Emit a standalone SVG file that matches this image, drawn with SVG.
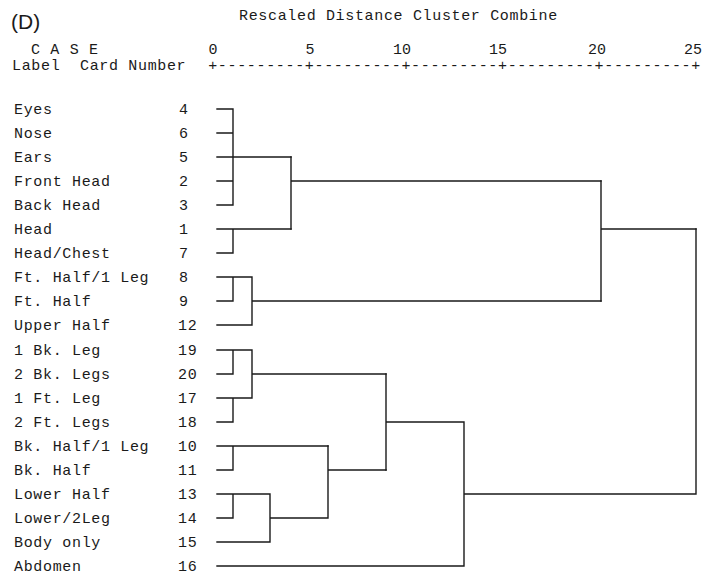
<svg xmlns="http://www.w3.org/2000/svg" width="703" height="576" viewBox="0 0 703 576">
<style>
.t{font-family:"Liberation Mono","Courier New",monospace;font-size:15px;letter-spacing:0.66px;fill:#1a1a1a}
.n{font-family:"Liberation Mono","Courier New",monospace;font-size:15px;fill:#1a1a1a;text-anchor:middle}
.c{fill:none;stroke:#1a1a1a;stroke-width:1.4;stroke-linecap:square}
</style>
<rect width="703" height="576" fill="#ffffff"/>
<g id="header">
<text x="11" y="29" style="font-family:'Liberation Sans',Arial,sans-serif;font-size:21px;fill:#1a1a1a">(D)</text>
<text class="t" x="239" y="20">Rescaled Distance Cluster Combine</text>
<text class="t" x="31" y="54">C A S E</text>
<text class="t" x="12" y="70">Label</text>
<text class="t" x="80" y="70">Card Number</text>
<text class="n" x="213" y="54">0</text>
<text class="n" x="310" y="54">5</text>
<text class="n" x="402" y="54">10</text>
<text class="n" x="498" y="54">15</text>
<text class="n" x="597" y="54">20</text>
<text class="n" x="693" y="54">25</text>
<text class="t" x="208.2" y="70" textLength="492.7" lengthAdjust="spacing">+---------+---------+---------+---------+---------+</text>
</g>
<g id="n4"><text class="t" x="14" y="114">Eyes</text><text class="t" x="179" y="114">4</text></g>
<g id="n6"><text class="t" x="14" y="138">Nose</text><text class="t" x="179" y="138">6</text></g>
<g id="n5"><text class="t" x="14" y="162">Ears</text><text class="t" x="179" y="162">5</text></g>
<g id="n2"><text class="t" x="14" y="186">Front Head</text><text class="t" x="179" y="186">2</text></g>
<g id="n3"><text class="t" x="14" y="210">Back Head</text><text class="t" x="179" y="210">3</text></g>
<g id="n1"><text class="t" x="14" y="234">Head</text><text class="t" x="179" y="234">1</text></g>
<g id="n7"><text class="t" x="14" y="258">Head/Chest</text><text class="t" x="179" y="258">7</text></g>
<g id="n8"><text class="t" x="14" y="282">Ft. Half/1 Leg</text><text class="t" x="179" y="282">8</text></g>
<g id="n9"><text class="t" x="14" y="306">Ft. Half</text><text class="t" x="179" y="306">9</text></g>
<g id="n12"><text class="t" x="14" y="330">Upper Half</text><text class="t" x="178" y="330">12</text></g>
<g id="n19"><text class="t" x="14" y="355">1 Bk. Leg</text><text class="t" x="178" y="355">19</text></g>
<g id="n20"><text class="t" x="14" y="379">2 Bk. Legs</text><text class="t" x="178" y="379">20</text></g>
<g id="n17"><text class="t" x="14" y="403">1 Ft. Leg</text><text class="t" x="178" y="403">17</text></g>
<g id="n18"><text class="t" x="14" y="427">2 Ft. Legs</text><text class="t" x="178" y="427">18</text></g>
<g id="n10"><text class="t" x="14" y="451">Bk. Half/1 Leg</text><text class="t" x="178" y="451">10</text></g>
<g id="n11"><text class="t" x="14" y="475">Bk. Half</text><text class="t" x="178" y="475">11</text></g>
<g id="n13"><text class="t" x="14" y="499">Lower Half</text><text class="t" x="178" y="499">13</text></g>
<g id="n14"><text class="t" x="14" y="523">Lower/2Leg</text><text class="t" x="178" y="523">14</text></g>
<g id="n15"><text class="t" x="14" y="547">Body only</text><text class="t" x="178" y="547">15</text></g>
<g id="n16"><text class="t" x="14" y="571">Abdomen</text><text class="t" x="178" y="571">16</text></g>
<g id="connectors" class="c">
<path d="M217,109H233M217,133H233M217,157H291M217,181H233M217,205H233M233,109V205"/>
<path d="M217,229H291M217,253H233M233,229V253"/>
<path d="M291,157V229M291,181H601"/>
<path d="M217,277H252M217,301H233M233,277V301M217,325H252M252,277V325M252,301H601"/>
<path d="M601,181V301M601,229H696"/>
<path d="M217,350H252M217,374H233M233,350V374M217,398H252M217,422H233M233,398V422M252,350V398M252,374H386"/>
<path d="M217,446H328M217,470H233M233,446V470"/>
<path d="M217,494H270M217,518H233M233,494V518M217,542H270M270,494V542M270,518H328M328,446V518M328,470H386"/>
<path d="M386,374V470M386,422H464M217,566H464M464,422V566M464,494H696M696,229V494"/>
</g>
</svg>
